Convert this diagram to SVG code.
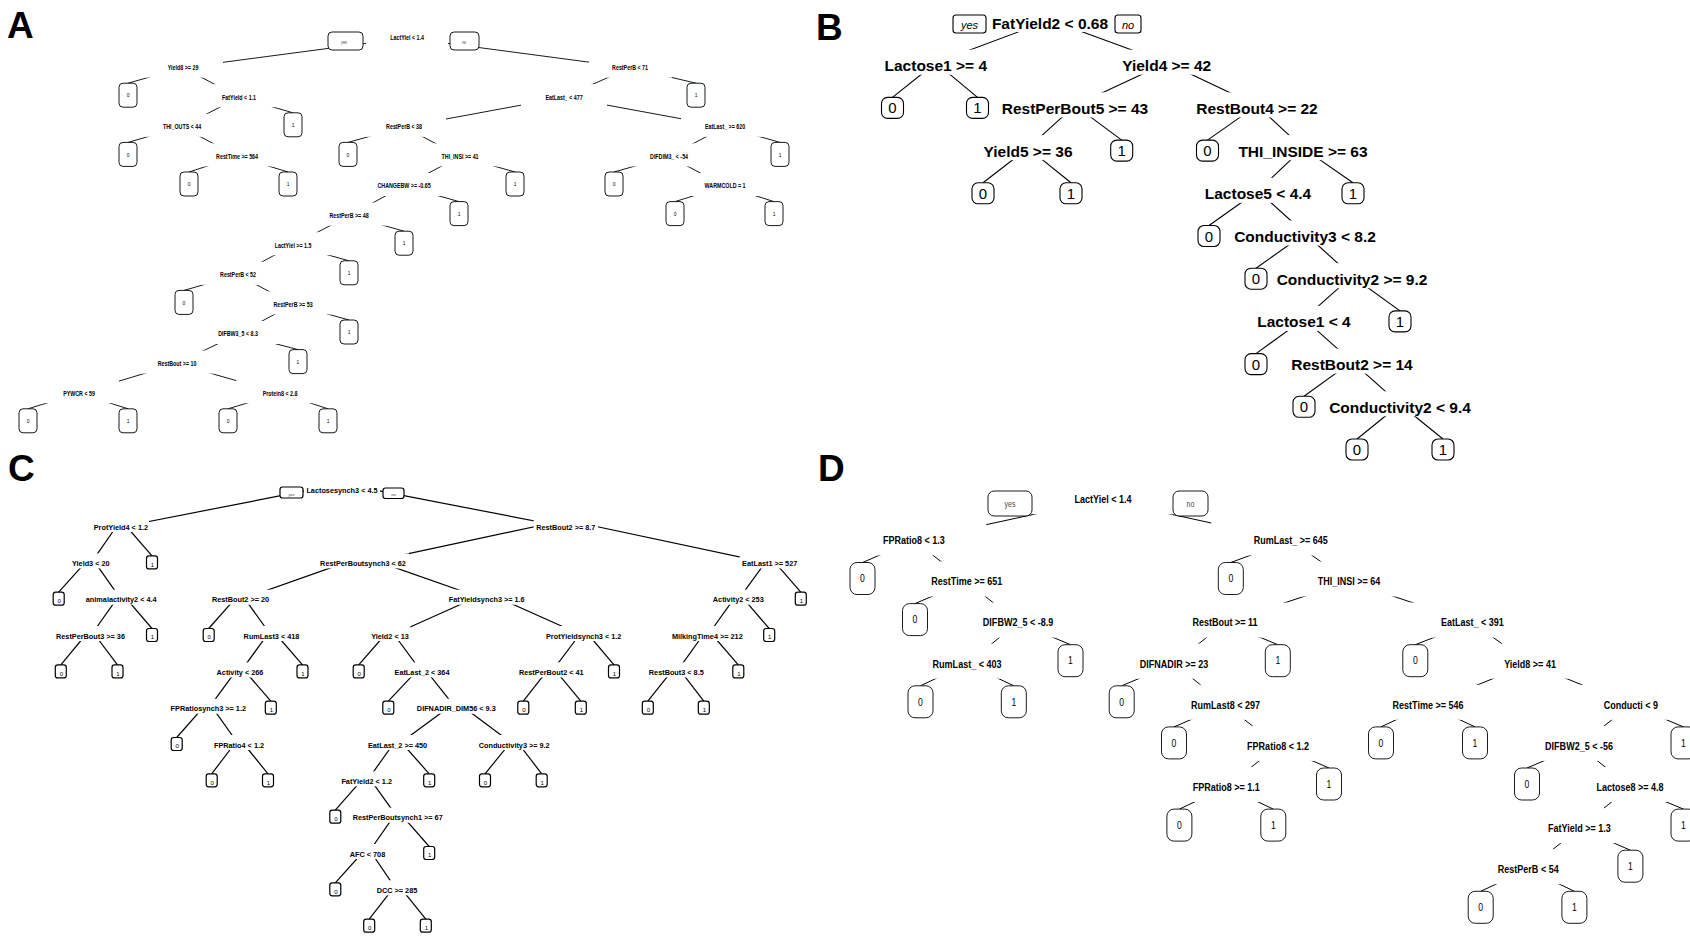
<svg xmlns="http://www.w3.org/2000/svg" width="1690" height="936" viewBox="0 0 1690 936">
<style>
.cn line{stroke:#000;fill:none}
.ea line{stroke-width:.9}
.eb line{stroke-width:1.1}
.ec line{stroke-width:1.2}
.ed line{stroke-width:1}
.bg{fill:#fff;stroke:none}
.lf{fill:#fff;stroke:#000}
.lfa{stroke-width:.9}
.lfb{stroke-width:1.1}
.lfc{stroke-width:1.2}
.lfd{stroke-width:.9}
text{font-family:"Liberation Sans",Arial,sans-serif;text-anchor:middle;fill:#000}
.nw{transform-box:fill-box;transform-origin:center;transform:scaleX(.82)}
.ta{font-size:6.5px;font-weight:bold}
.la{font-size:6px}
.tb{font-size:15.5px;font-weight:bold}
.lb{font-size:15px}
.tc{font-size:7.3px;font-weight:bold}
.lc{font-size:6px}
.td{font-size:11px;font-weight:bold}
.ld{font-size:10.5px}
.yna{font-size:4.5px;fill:#444}
.ynb{font-size:11px;font-style:italic}
.ync{font-size:4px;fill:#444}
.ynd{font-size:8.5px;fill:#444}
.pl{font-size:37px;font-weight:bold;text-anchor:start}
</style>
<rect x="0" y="0" width="1690" height="936" fill="#fff"/>
<text class="pl" x="7" y="38">A</text>
<text class="pl" x="816" y="40">B</text>
<text class="pl" x="8" y="481">C</text>
<text class="pl" x="818" y="481">D</text>

<!-- ================= PANEL A ================= -->
<g id="A-connectors" class="cn ea">
<line x1="407" y1="38" x2="183" y2="67.6"/>
<line x1="407" y1="38" x2="630" y2="67.6"/>
<line x1="183" y1="67.6" x2="128" y2="83.2"/>
<line x1="183" y1="67.6" x2="239" y2="97.2"/>
<line x1="239" y1="97.2" x2="182" y2="126.8"/>
<line x1="239" y1="97.2" x2="293" y2="112.8"/>
<line x1="182" y1="126.8" x2="128" y2="142.4"/>
<line x1="182" y1="126.8" x2="237" y2="156.4"/>
<line x1="237" y1="156.4" x2="189" y2="172"/>
<line x1="237" y1="156.4" x2="288" y2="172"/>
<line x1="630" y1="67.6" x2="564" y2="97.2"/>
<line x1="630" y1="67.6" x2="696" y2="83.2"/>
<line x1="564" y1="97.2" x2="404" y2="126.8"/>
<line x1="564" y1="97.2" x2="725" y2="126.8"/>
<line x1="404" y1="126.8" x2="348" y2="142.4"/>
<line x1="404" y1="126.8" x2="460" y2="156.4"/>
<line x1="460" y1="156.4" x2="404" y2="186"/>
<line x1="460" y1="156.4" x2="515" y2="172"/>
<line x1="404" y1="186" x2="349" y2="215.6"/>
<line x1="404" y1="186" x2="459" y2="201.6"/>
<line x1="349" y1="215.6" x2="293" y2="245.2"/>
<line x1="349" y1="215.6" x2="404" y2="231.2"/>
<line x1="293" y1="245.2" x2="238" y2="274.8"/>
<line x1="293" y1="245.2" x2="349" y2="260.8"/>
<line x1="238" y1="274.8" x2="184" y2="290.4"/>
<line x1="238" y1="274.8" x2="293" y2="304.4"/>
<line x1="293" y1="304.4" x2="238" y2="334"/>
<line x1="293" y1="304.4" x2="349" y2="320"/>
<line x1="238" y1="334" x2="177" y2="363.6"/>
<line x1="238" y1="334" x2="298" y2="349.6"/>
<line x1="177" y1="363.6" x2="79" y2="393.2"/>
<line x1="177" y1="363.6" x2="280" y2="393.2"/>
<line x1="79" y1="393.2" x2="28" y2="408.8"/>
<line x1="79" y1="393.2" x2="128" y2="408.8"/>
<line x1="280" y1="393.2" x2="228" y2="408.8"/>
<line x1="280" y1="393.2" x2="328" y2="408.8"/>
<line x1="725" y1="126.8" x2="669" y2="156.4"/>
<line x1="725" y1="126.8" x2="780" y2="142.4"/>
<line x1="669" y1="156.4" x2="614" y2="172"/>
<line x1="669" y1="156.4" x2="725" y2="186"/>
<line x1="725" y1="186" x2="675" y2="201.6"/>
<line x1="725" y1="186" x2="774" y2="201.6"/>
</g>
<g id="A-n1"><rect class="bg" x="366" y="25" width="82" height="23"/><text class="ta nw" x="407" y="40.4">LactYiel &lt; 1.4</text></g>
<g id="A-n2"><rect class="bg" x="143" y="54.6" width="80" height="23"/><text class="ta nw" x="183" y="70">Yield8 &gt;= 29</text></g>
<g id="A-n3"><rect class="bg" x="589" y="54.6" width="83" height="23"/><text class="ta nw" x="630" y="70">RestPerB &lt; 71</text></g>
<g id="A-n4"><rect class="bg" x="198" y="84.2" width="82" height="23"/><text class="ta nw" x="239" y="99.6">FatYield &lt; 1.1</text></g>
<g id="A-n5"><rect class="bg" x="521" y="84.2" width="86" height="23"/><text class="ta nw" x="564" y="99.6">EatLast_ &lt; 477</text></g>
<g id="A-n6"><rect class="bg" x="138" y="113.8" width="88" height="23"/><text class="ta nw" x="182" y="129.2">THI_OUTS &lt; 44</text></g>
<g id="A-n7"><rect class="bg" x="363" y="113.8" width="83" height="23"/><text class="ta nw" x="404" y="129.2">RestPerB &lt; 38</text></g>
<g id="A-n8"><rect class="bg" x="681" y="113.8" width="88" height="23"/><text class="ta nw" x="725" y="129.2">EatLast_ &gt;= 620</text></g>
<g id="A-n9"><rect class="bg" x="192" y="143.4" width="90" height="23"/><text class="ta nw" x="237" y="158.8">RestTime &gt;= 564</text></g>
<g id="A-n10"><rect class="bg" x="418" y="143.4" width="84" height="23"/><text class="ta nw" x="460" y="158.8">THI_INSI &gt;= 41</text></g>
<g id="A-n11"><rect class="bg" x="626" y="143.4" width="86" height="23"/><text class="ta nw" x="669" y="158.8">DIFDIM3_ &lt; -54</text></g>
<g id="A-n12"><rect class="bg" x="353" y="173" width="103" height="23"/><text class="ta nw" x="404" y="188.4">CHANGEBW &gt;= -0.65</text></g>
<g id="A-n13"><rect class="bg" x="679" y="173" width="92" height="23"/><text class="ta nw" x="725" y="188.4">WARMCOLD = 1</text></g>
<g id="A-n14"><rect class="bg" x="306" y="202.6" width="86" height="23"/><text class="ta nw" x="349" y="218">RestPerB &gt;= 48</text></g>
<g id="A-n15"><rect class="bg" x="249" y="232.2" width="87" height="23"/><text class="ta nw" x="293" y="247.6">LactYiel &gt;= 1.5</text></g>
<g id="A-n16"><rect class="bg" x="196" y="261.8" width="84" height="23"/><text class="ta nw" x="238" y="277.2">RestPerB &lt; 52</text></g>
<g id="A-n17"><rect class="bg" x="250" y="291.4" width="86" height="23"/><text class="ta nw" x="293" y="306.8">RestPerB &gt;= 53</text></g>
<g id="A-n18"><rect class="bg" x="194" y="321" width="88" height="23"/><text class="ta nw" x="238" y="336.4">DIFBW3_5 &lt; 8.3</text></g>
<g id="A-n19"><rect class="bg" x="133" y="350.6" width="89" height="23"/><text class="ta nw" x="177" y="366">RestBout &gt;= 10</text></g>
<g id="A-n20"><rect class="bg" x="38" y="380.2" width="81" height="23"/><text class="ta nw" x="79" y="395.6">PYWCR &lt; 59</text></g>
<g id="A-n21"><rect class="bg" x="236" y="380.2" width="86" height="23"/><text class="ta nw" x="280" y="395.6">Protein8 &lt; 2.8</text></g>
<g id="A-leaves">
<g id="A-l1"><rect class="lf lfa" x="119" y="83.2" width="18" height="24" rx="4"/><text class="la nw" x="128" y="97.4">0</text></g>
<g id="A-l2"><rect class="lf lfa" x="687" y="83.2" width="18" height="24" rx="4"/><text class="la nw" x="696" y="97.4">1</text></g>
<g id="A-l3"><rect class="lf lfa" x="284" y="112.8" width="18" height="24" rx="4"/><text class="la nw" x="293" y="127">1</text></g>
<g id="A-l4"><rect class="lf lfa" x="119" y="142.4" width="18" height="24" rx="4"/><text class="la nw" x="128" y="156.6">0</text></g>
<g id="A-l5"><rect class="lf lfa" x="339" y="142.4" width="18" height="24" rx="4"/><text class="la nw" x="348" y="156.6">0</text></g>
<g id="A-l6"><rect class="lf lfa" x="771" y="142.4" width="18" height="24" rx="4"/><text class="la nw" x="780" y="156.6">1</text></g>
<g id="A-l7"><rect class="lf lfa" x="180" y="172" width="18" height="24" rx="4"/><text class="la nw" x="189" y="186.2">0</text></g>
<g id="A-l8"><rect class="lf lfa" x="279" y="172" width="18" height="24" rx="4"/><text class="la nw" x="288" y="186.2">1</text></g>
<g id="A-l9"><rect class="lf lfa" x="506" y="172" width="18" height="24" rx="4"/><text class="la nw" x="515" y="186.2">1</text></g>
<g id="A-l10"><rect class="lf lfa" x="605" y="172" width="18" height="24" rx="4"/><text class="la nw" x="614" y="186.2">0</text></g>
<g id="A-l11"><rect class="lf lfa" x="450" y="201.6" width="18" height="24" rx="4"/><text class="la nw" x="459" y="215.8">1</text></g>
<g id="A-l12"><rect class="lf lfa" x="666" y="201.6" width="18" height="24" rx="4"/><text class="la nw" x="675" y="215.8">0</text></g>
<g id="A-l13"><rect class="lf lfa" x="765" y="201.6" width="18" height="24" rx="4"/><text class="la nw" x="774" y="215.8">1</text></g>
<g id="A-l14"><rect class="lf lfa" x="395" y="231.2" width="18" height="24" rx="4"/><text class="la nw" x="404" y="245.4">1</text></g>
<g id="A-l15"><rect class="lf lfa" x="340" y="260.8" width="18" height="24" rx="4"/><text class="la nw" x="349" y="275">1</text></g>
<g id="A-l16"><rect class="lf lfa" x="175" y="290.4" width="18" height="24" rx="4"/><text class="la nw" x="184" y="304.6">0</text></g>
<g id="A-l17"><rect class="lf lfa" x="340" y="320" width="18" height="24" rx="4"/><text class="la nw" x="349" y="334.2">1</text></g>
<g id="A-l18"><rect class="lf lfa" x="289" y="349.6" width="18" height="24" rx="4"/><text class="la nw" x="298" y="363.8">1</text></g>
<g id="A-l19"><rect class="lf lfa" x="19" y="408.8" width="18" height="24" rx="4"/><text class="la nw" x="28" y="423">0</text></g>
<g id="A-l20"><rect class="lf lfa" x="119" y="408.8" width="18" height="24" rx="4"/><text class="la nw" x="128" y="423">1</text></g>
<g id="A-l21"><rect class="lf lfa" x="219" y="408.8" width="18" height="24" rx="4"/><text class="la nw" x="228" y="423">0</text></g>
<g id="A-l22"><rect class="lf lfa" x="319" y="408.8" width="18" height="24" rx="4"/><text class="la nw" x="328" y="423">1</text></g>
</g>
<g id="A-yes"><rect class="lf lfa" x="328" y="32" width="35" height="18" rx="4"/><text class="yna nw" x="344" y="44">yes</text></g>
<g id="A-no"><rect class="lf lfa" x="450" y="32" width="29" height="18" rx="4"/><text class="yna nw" x="464" y="44">no</text></g>

<!-- ================= PANEL B ================= -->
<g id="B-connectors" class="cn eb">
<line x1="1050" y1="20" x2="935.8" y2="62.7"/>
<line x1="1050" y1="20" x2="1166.7" y2="62.7"/>
<line x1="935.8" y1="62.7" x2="892.5" y2="97.4"/>
<line x1="935.8" y1="62.7" x2="977.5" y2="97.4"/>
<line x1="1166.7" y1="62.7" x2="1075" y2="105.4"/>
<line x1="1166.7" y1="62.7" x2="1257" y2="105.4"/>
<line x1="1075" y1="105.4" x2="1028" y2="148.1"/>
<line x1="1075" y1="105.4" x2="1121.7" y2="140.1"/>
<line x1="1028" y1="148.1" x2="983" y2="182.8"/>
<line x1="1028" y1="148.1" x2="1071" y2="182.8"/>
<line x1="1257" y1="105.4" x2="1207.5" y2="140.1"/>
<line x1="1257" y1="105.4" x2="1303" y2="148.1"/>
<line x1="1303" y1="148.1" x2="1258" y2="190.8"/>
<line x1="1303" y1="148.1" x2="1353" y2="182.8"/>
<line x1="1258" y1="190.8" x2="1209" y2="225.5"/>
<line x1="1258" y1="190.8" x2="1305" y2="233.5"/>
<line x1="1305" y1="233.5" x2="1256" y2="268.2"/>
<line x1="1305" y1="233.5" x2="1352" y2="276.2"/>
<line x1="1352" y1="276.2" x2="1304" y2="318.9"/>
<line x1="1352" y1="276.2" x2="1400" y2="310.9"/>
<line x1="1304" y1="318.9" x2="1256" y2="353.6"/>
<line x1="1304" y1="318.9" x2="1352" y2="361.6"/>
<line x1="1352" y1="361.6" x2="1304" y2="396.3"/>
<line x1="1352" y1="361.6" x2="1400" y2="404.3"/>
<line x1="1400" y1="404.3" x2="1357" y2="439"/>
<line x1="1400" y1="404.3" x2="1443" y2="439"/>
</g>
<g id="B-n1"><rect class="bg" x="988" y="7" width="124" height="25"/><text class="tb" x="1050" y="28.5">FatYield2 &lt; 0.68</text></g>
<g id="B-n2"><rect class="bg" x="879" y="49.7" width="113" height="25"/><text class="tb" x="935.8" y="71.2">Lactose1 &gt;= 4</text></g>
<g id="B-n3"><rect class="bg" x="1118" y="49.7" width="98" height="25"/><text class="tb" x="1166.7" y="71.2">Yield4 &gt;= 42</text></g>
<g id="B-n4"><rect class="bg" x="998" y="92.4" width="154" height="25"/><text class="tb" x="1075" y="113.9">RestPerBout5 &gt;= 43</text></g>
<g id="B-n5"><rect class="bg" x="1192" y="92.4" width="129" height="25"/><text class="tb" x="1257" y="113.9">RestBout4 &gt;= 22</text></g>
<g id="B-n6"><rect class="bg" x="979" y="135.1" width="97" height="25"/><text class="tb" x="1028" y="156.6">Yield5 &gt;= 36</text></g>
<g id="B-n7"><rect class="bg" x="1239" y="135.1" width="129" height="25"/><text class="tb" x="1303" y="156.6">THI_INSIDE &gt;= 63</text></g>
<g id="B-n8"><rect class="bg" x="1199" y="177.8" width="117" height="25"/><text class="tb" x="1258" y="199.3">Lactose5 &lt; 4.4</text></g>
<g id="B-n9"><rect class="bg" x="1229" y="220.5" width="152" height="25"/><text class="tb" x="1305" y="242">Conductivity3 &lt; 8.2</text></g>
<g id="B-n10"><rect class="bg" x="1273" y="263.2" width="159" height="25"/><text class="tb" x="1352" y="284.7">Conductivity2 &gt;= 9.2</text></g>
<g id="B-n11"><rect class="bg" x="1253" y="305.9" width="103" height="25"/><text class="tb" x="1304" y="327.4">Lactose1 &lt; 4</text></g>
<g id="B-n12"><rect class="bg" x="1288" y="348.6" width="129" height="25"/><text class="tb" x="1352" y="370.1">RestBout2 &gt;= 14</text></g>
<g id="B-n13"><rect class="bg" x="1324" y="391.3" width="152" height="25"/><text class="tb" x="1400" y="412.8">Conductivity2 &lt; 9.4</text></g>
<g id="B-leaves">
<g id="B-l1"><rect class="lf lfb" x="881.5" y="97.4" width="22" height="21" rx="6"/><text class="lb" x="892.5" y="113.4">0</text></g>
<g id="B-l2"><rect class="lf lfb" x="966.5" y="97.4" width="22" height="21" rx="6"/><text class="lb" x="977.5" y="113.4">1</text></g>
<g id="B-l3"><rect class="lf lfb" x="1110.7" y="140.1" width="22" height="21" rx="6"/><text class="lb" x="1121.7" y="156.1">1</text></g>
<g id="B-l4"><rect class="lf lfb" x="1196.5" y="140.1" width="22" height="21" rx="6"/><text class="lb" x="1207.5" y="156.1">0</text></g>
<g id="B-l5"><rect class="lf lfb" x="972" y="182.8" width="22" height="21" rx="6"/><text class="lb" x="983" y="198.8">0</text></g>
<g id="B-l6"><rect class="lf lfb" x="1060" y="182.8" width="22" height="21" rx="6"/><text class="lb" x="1071" y="198.8">1</text></g>
<g id="B-l7"><rect class="lf lfb" x="1342" y="182.8" width="22" height="21" rx="6"/><text class="lb" x="1353" y="198.8">1</text></g>
<g id="B-l8"><rect class="lf lfb" x="1198" y="225.5" width="22" height="21" rx="6"/><text class="lb" x="1209" y="241.5">0</text></g>
<g id="B-l9"><rect class="lf lfb" x="1245" y="268.2" width="22" height="21" rx="6"/><text class="lb" x="1256" y="284.2">0</text></g>
<g id="B-l10"><rect class="lf lfb" x="1389" y="310.9" width="22" height="21" rx="6"/><text class="lb" x="1400" y="326.9">1</text></g>
<g id="B-l11"><rect class="lf lfb" x="1245" y="353.6" width="22" height="21" rx="6"/><text class="lb" x="1256" y="369.6">0</text></g>
<g id="B-l12"><rect class="lf lfb" x="1293" y="396.3" width="22" height="21" rx="6"/><text class="lb" x="1304" y="412.3">0</text></g>
<g id="B-l13"><rect class="lf lfb" x="1346" y="439" width="22" height="21" rx="6"/><text class="lb" x="1357" y="455">0</text></g>
<g id="B-l14"><rect class="lf lfb" x="1432" y="439" width="22" height="21" rx="6"/><text class="lb" x="1443" y="455">1</text></g>
</g>
<g id="B-yes"><rect class="lf lfb" x="953" y="15" width="33" height="18" rx="3"/><text class="ynb" x="969.5" y="28.5">yes</text></g>
<g id="B-no"><rect class="lf lfb" x="1115" y="15" width="26" height="18" rx="3"/><text class="ynb" x="1128" y="28.5">no</text></g>

<!-- ================= PANEL C ================= -->
<g id="C-connectors" class="cn ec">
<line x1="342" y1="483.7" x2="120.9" y2="527"/>
<line x1="342" y1="483.7" x2="565.8" y2="527"/>
<line x1="120.9" y1="520" x2="90.8" y2="563.4"/>
<line x1="120.9" y1="520" x2="152" y2="555.9"/>
<line x1="90.8" y1="556.4" x2="58.7" y2="592.2"/>
<line x1="90.8" y1="556.4" x2="121.2" y2="599.7"/>
<line x1="121.2" y1="592.7" x2="90.5" y2="636"/>
<line x1="121.2" y1="592.7" x2="152" y2="628.5"/>
<line x1="90.5" y1="629" x2="60.8" y2="664.9"/>
<line x1="90.5" y1="629" x2="117.5" y2="664.9"/>
<line x1="565.8" y1="520" x2="363" y2="563.4"/>
<line x1="565.8" y1="520" x2="769.7" y2="563.4"/>
<line x1="363" y1="556.4" x2="240.5" y2="599.7"/>
<line x1="363" y1="556.4" x2="486.7" y2="599.7"/>
<line x1="240.5" y1="592.7" x2="208.7" y2="628.5"/>
<line x1="240.5" y1="592.7" x2="271.5" y2="636"/>
<line x1="271.5" y1="629" x2="240" y2="672.4"/>
<line x1="271.5" y1="629" x2="302.5" y2="664.9"/>
<line x1="240" y1="665.4" x2="208.3" y2="708.7"/>
<line x1="240" y1="665.4" x2="270.8" y2="701.2"/>
<line x1="208.3" y1="701.7" x2="176.7" y2="737.5"/>
<line x1="208.3" y1="701.7" x2="239" y2="745"/>
<line x1="239" y1="738" x2="211.7" y2="773.8"/>
<line x1="239" y1="738" x2="268" y2="773.8"/>
<line x1="486.7" y1="592.7" x2="390" y2="636"/>
<line x1="486.7" y1="592.7" x2="583.7" y2="636"/>
<line x1="390" y1="629" x2="358.7" y2="664.9"/>
<line x1="390" y1="629" x2="422" y2="672.4"/>
<line x1="422" y1="665.4" x2="388.3" y2="701.2"/>
<line x1="422" y1="665.4" x2="456.3" y2="708.7"/>
<line x1="456.3" y1="701.7" x2="397.5" y2="745"/>
<line x1="456.3" y1="701.7" x2="514.2" y2="745"/>
<line x1="397.5" y1="738" x2="366.7" y2="781.3"/>
<line x1="397.5" y1="738" x2="429.2" y2="773.8"/>
<line x1="366.7" y1="774.3" x2="335.3" y2="810.2"/>
<line x1="366.7" y1="774.3" x2="397.7" y2="817.7"/>
<line x1="397.7" y1="810.7" x2="367.5" y2="854"/>
<line x1="397.7" y1="810.7" x2="429.2" y2="846.5"/>
<line x1="367.5" y1="847" x2="335.3" y2="882.8"/>
<line x1="367.5" y1="847" x2="397" y2="890.3"/>
<line x1="397" y1="883.3" x2="369.2" y2="919.2"/>
<line x1="397" y1="883.3" x2="425.8" y2="919.2"/>
<line x1="514.2" y1="738" x2="485" y2="773.8"/>
<line x1="514.2" y1="738" x2="541.7" y2="773.8"/>
<line x1="583.7" y1="629" x2="551.3" y2="672.4"/>
<line x1="583.7" y1="629" x2="614" y2="664.9"/>
<line x1="551.3" y1="665.4" x2="523.3" y2="701.2"/>
<line x1="551.3" y1="665.4" x2="580.8" y2="701.2"/>
<line x1="769.7" y1="556.4" x2="738.3" y2="599.7"/>
<line x1="769.7" y1="556.4" x2="800.8" y2="592.2"/>
<line x1="738.3" y1="592.7" x2="707.3" y2="636"/>
<line x1="738.3" y1="592.7" x2="769.2" y2="628.5"/>
<line x1="707.3" y1="629" x2="676.3" y2="672.4"/>
<line x1="707.3" y1="629" x2="738.3" y2="664.9"/>
<line x1="676.3" y1="665.4" x2="647.8" y2="701.2"/>
<line x1="676.3" y1="665.4" x2="703.8" y2="701.2"/>
</g>
<g id="C-n1"><rect class="bg" x="304" y="480.7" width="76" height="15"/><text class="tc" x="342" y="493.3">Lactosesynch3 &lt; 4.5</text></g>
<g id="C-n2"><rect class="bg" x="92.7" y="517" width="56.3" height="15"/><text class="tc" x="120.9" y="529.6">ProtYield4 &lt; 1.2</text></g>
<g id="C-n3"><rect class="bg" x="533.7" y="517" width="64.3" height="15"/><text class="tc" x="565.8" y="529.6">RestBout2 &gt;= 8.7</text></g>
<g id="C-n4"><rect class="bg" x="70.3" y="553.4" width="41" height="15"/><text class="tc" x="90.8" y="566">Yield3 &lt; 20</text></g>
<g id="C-n5"><rect class="bg" x="317" y="553.4" width="92" height="15"/><text class="tc" x="363" y="566">RestPerBoutsynch3 &lt; 62</text></g>
<g id="C-n6"><rect class="bg" x="739.7" y="553.4" width="60" height="15"/><text class="tc" x="769.7" y="566">EatLast1 &gt;= 527</text></g>
<g id="C-n7"><rect class="bg" x="84.3" y="589.7" width="73.7" height="15"/><text class="tc" x="121.2" y="602.3">animalactivity2 &lt; 4.4</text></g>
<g id="C-n8"><rect class="bg" x="208.7" y="589.7" width="63.6" height="15"/><text class="tc" x="240.5" y="602.3">RestBout2 &gt;= 20</text></g>
<g id="C-n9"><rect class="bg" x="447" y="589.7" width="79.3" height="15"/><text class="tc" x="486.7" y="602.3">FatYieldsynch3 &gt;= 1.6</text></g>
<g id="C-n10"><rect class="bg" x="710.3" y="589.7" width="56" height="15"/><text class="tc" x="738.3" y="602.3">Activity2 &lt; 253</text></g>
<g id="C-n11"><rect class="bg" x="53" y="626" width="75" height="15"/><text class="tc" x="90.5" y="638.6">RestPerBout3 &gt;= 36</text></g>
<g id="C-n12"><rect class="bg" x="241" y="626" width="61" height="15"/><text class="tc" x="271.5" y="638.6">RumLast3 &lt; 418</text></g>
<g id="C-n13"><rect class="bg" x="369.7" y="626" width="40.6" height="15"/><text class="tc" x="390" y="638.6">Yield2 &lt; 13</text></g>
<g id="C-n14"><rect class="bg" x="544.3" y="626" width="78.7" height="15"/><text class="tc" x="583.7" y="638.6">ProtYieldsynch3 &lt; 1.2</text></g>
<g id="C-n15"><rect class="bg" x="671" y="626" width="72.7" height="15"/><text class="tc" x="707.3" y="638.6">MilkingTime4 &gt;= 212</text></g>
<g id="C-n16"><rect class="bg" x="213.7" y="662.4" width="52.6" height="15"/><text class="tc" x="240" y="675">Activity &lt; 266</text></g>
<g id="C-n17"><rect class="bg" x="391" y="662.4" width="62" height="15"/><text class="tc" x="422" y="675">EatLast_2 &lt; 364</text></g>
<g id="C-n18"><rect class="bg" x="516.3" y="662.4" width="70" height="15"/><text class="tc" x="551.3" y="675">RestPerBout2 &lt; 41</text></g>
<g id="C-n19"><rect class="bg" x="646.3" y="662.4" width="60" height="15"/><text class="tc" x="676.3" y="675">RestBout3 &lt; 8.5</text></g>
<g id="C-n20"><rect class="bg" x="168.7" y="698.7" width="79.3" height="15"/><text class="tc" x="208.3" y="711.3">FPRatiosynch3 &gt;= 1.2</text></g>
<g id="C-n21"><rect class="bg" x="413.7" y="698.7" width="85.3" height="15"/><text class="tc" x="456.3" y="711.3">DIFNADIR_DIM56 &lt; 9.3</text></g>
<g id="C-n22"><rect class="bg" x="212" y="735" width="54.3" height="15"/><text class="tc" x="239" y="747.6">FPRatio4 &lt; 1.2</text></g>
<g id="C-n23"><rect class="bg" x="365.3" y="735" width="64.4" height="15"/><text class="tc" x="397.5" y="747.6">EatLast_2 &gt;= 450</text></g>
<g id="C-n24"><rect class="bg" x="477" y="735" width="74.3" height="15"/><text class="tc" x="514.2" y="747.6">Conductivity3 &gt;= 9.2</text></g>
<g id="C-n25"><rect class="bg" x="339.7" y="771.3" width="54" height="15"/><text class="tc" x="366.7" y="783.9">FatYield2 &lt; 1.2</text></g>
<g id="C-n26"><rect class="bg" x="349.7" y="807.7" width="96" height="15"/><text class="tc" x="397.7" y="820.3">RestPerBoutsynch1 &gt;= 67</text></g>
<g id="C-n27"><rect class="bg" x="347" y="844" width="41" height="15"/><text class="tc" x="367.5" y="856.6">AFC &lt; 708</text></g>
<g id="C-n28"><rect class="bg" x="373.7" y="880.3" width="46.6" height="15"/><text class="tc" x="397" y="892.9">DCC &gt;= 285</text></g>
<g id="C-leaves">
<g id="C-l1"><rect class="lf lfc" x="146.5" y="555.9" width="11" height="13" rx="2.5"/><text class="lc" x="152.5" y="566.6">1</text></g>
<g id="C-l2"><rect class="lf lfc" x="53.2" y="592.2" width="11" height="13" rx="2.5"/><text class="lc" x="59.2" y="602.9">0</text></g>
<g id="C-l3"><rect class="lf lfc" x="795.3" y="592.2" width="11" height="13" rx="2.5"/><text class="lc" x="801.3" y="602.9">1</text></g>
<g id="C-l4"><rect class="lf lfc" x="146.5" y="628.5" width="11" height="13" rx="2.5"/><text class="lc" x="152.5" y="639.2">1</text></g>
<g id="C-l5"><rect class="lf lfc" x="203.2" y="628.5" width="11" height="13" rx="2.5"/><text class="lc" x="209.2" y="639.2">0</text></g>
<g id="C-l6"><rect class="lf lfc" x="763.7" y="628.5" width="11" height="13" rx="2.5"/><text class="lc" x="769.7" y="639.2">1</text></g>
<g id="C-l7"><rect class="lf lfc" x="55.3" y="664.9" width="11" height="13" rx="2.5"/><text class="lc" x="61.3" y="675.6">0</text></g>
<g id="C-l8"><rect class="lf lfc" x="112" y="664.9" width="11" height="13" rx="2.5"/><text class="lc" x="118" y="675.6">1</text></g>
<g id="C-l9"><rect class="lf lfc" x="297" y="664.9" width="11" height="13" rx="2.5"/><text class="lc" x="303" y="675.6">1</text></g>
<g id="C-l10"><rect class="lf lfc" x="353.2" y="664.9" width="11" height="13" rx="2.5"/><text class="lc" x="359.2" y="675.6">0</text></g>
<g id="C-l11"><rect class="lf lfc" x="608.5" y="664.9" width="11" height="13" rx="2.5"/><text class="lc" x="614.5" y="675.6">1</text></g>
<g id="C-l12"><rect class="lf lfc" x="732.8" y="664.9" width="11" height="13" rx="2.5"/><text class="lc" x="738.8" y="675.6">1</text></g>
<g id="C-l13"><rect class="lf lfc" x="265.3" y="701.2" width="11" height="13" rx="2.5"/><text class="lc" x="271.3" y="711.9">1</text></g>
<g id="C-l14"><rect class="lf lfc" x="382.8" y="701.2" width="11" height="13" rx="2.5"/><text class="lc" x="388.8" y="711.9">0</text></g>
<g id="C-l15"><rect class="lf lfc" x="517.8" y="701.2" width="11" height="13" rx="2.5"/><text class="lc" x="523.8" y="711.9">0</text></g>
<g id="C-l16"><rect class="lf lfc" x="575.3" y="701.2" width="11" height="13" rx="2.5"/><text class="lc" x="581.3" y="711.9">1</text></g>
<g id="C-l17"><rect class="lf lfc" x="642.3" y="701.2" width="11" height="13" rx="2.5"/><text class="lc" x="648.3" y="711.9">0</text></g>
<g id="C-l18"><rect class="lf lfc" x="698.3" y="701.2" width="11" height="13" rx="2.5"/><text class="lc" x="704.3" y="711.9">1</text></g>
<g id="C-l19"><rect class="lf lfc" x="171.2" y="737.5" width="11" height="13" rx="2.5"/><text class="lc" x="177.2" y="748.2">0</text></g>
<g id="C-l20"><rect class="lf lfc" x="206.2" y="773.8" width="11" height="13" rx="2.5"/><text class="lc" x="212.2" y="784.5">0</text></g>
<g id="C-l21"><rect class="lf lfc" x="262.5" y="773.8" width="11" height="13" rx="2.5"/><text class="lc" x="268.5" y="784.5">1</text></g>
<g id="C-l22"><rect class="lf lfc" x="423.7" y="773.8" width="11" height="13" rx="2.5"/><text class="lc" x="429.7" y="784.5">1</text></g>
<g id="C-l23"><rect class="lf lfc" x="479.5" y="773.8" width="11" height="13" rx="2.5"/><text class="lc" x="485.5" y="784.5">0</text></g>
<g id="C-l24"><rect class="lf lfc" x="536.2" y="773.8" width="11" height="13" rx="2.5"/><text class="lc" x="542.2" y="784.5">1</text></g>
<g id="C-l25"><rect class="lf lfc" x="329.8" y="810.2" width="11" height="13" rx="2.5"/><text class="lc" x="335.8" y="820.9">0</text></g>
<g id="C-l26"><rect class="lf lfc" x="423.7" y="846.5" width="11" height="13" rx="2.5"/><text class="lc" x="429.7" y="857.2">1</text></g>
<g id="C-l27"><rect class="lf lfc" x="329.8" y="882.8" width="11" height="13" rx="2.5"/><text class="lc" x="335.8" y="893.5">0</text></g>
<g id="C-l28"><rect class="lf lfc" x="363.7" y="919.2" width="11" height="13" rx="2.5"/><text class="lc" x="369.7" y="929.9">0</text></g>
<g id="C-l29"><rect class="lf lfc" x="420.3" y="919.2" width="11" height="13" rx="2.5"/><text class="lc" x="426.3" y="929.9">1</text></g>
</g>
<g id="C-yes"><rect class="lf lfc" x="280" y="487" width="23" height="11" rx="2.5"/><text class="ync" x="291.5" y="495.5">yes</text></g>
<g id="C-no"><rect class="lf lfc" x="383" y="488" width="21" height="10.5" rx="2.5"/><text class="ync" x="393.5" y="495.8">no</text></g>

<!-- ================= PANEL D ================= -->
<g id="D-connectors" class="cn ed">
<line x1="1103" y1="499.3" x2="913.8" y2="540.4"/>
<line x1="1103" y1="499.3" x2="1290.8" y2="540.4"/>
<line x1="913.8" y1="540.4" x2="862.5" y2="562.5"/>
<line x1="913.8" y1="540.4" x2="966.7" y2="581.5"/>
<line x1="966.7" y1="581.5" x2="915" y2="603.6"/>
<line x1="966.7" y1="581.5" x2="1018" y2="622.6"/>
<line x1="1018" y1="622.6" x2="967" y2="663.7"/>
<line x1="1018" y1="622.6" x2="1070.5" y2="644.7"/>
<line x1="967" y1="663.7" x2="920.5" y2="685.8"/>
<line x1="967" y1="663.7" x2="1013.8" y2="685.8"/>
<line x1="1290.8" y1="540.4" x2="1230.8" y2="562.5"/>
<line x1="1290.8" y1="540.4" x2="1349" y2="581.5"/>
<line x1="1349" y1="581.5" x2="1225" y2="622.6"/>
<line x1="1349" y1="581.5" x2="1472.3" y2="622.6"/>
<line x1="1225" y1="622.6" x2="1174" y2="663.7"/>
<line x1="1225" y1="622.6" x2="1277.8" y2="644.7"/>
<line x1="1174" y1="663.7" x2="1121.7" y2="685.8"/>
<line x1="1174" y1="663.7" x2="1225.5" y2="704.8"/>
<line x1="1225.5" y1="704.8" x2="1174" y2="726.9"/>
<line x1="1225.5" y1="704.8" x2="1278" y2="745.9"/>
<line x1="1278" y1="745.9" x2="1226.3" y2="787"/>
<line x1="1278" y1="745.9" x2="1329" y2="768"/>
<line x1="1226.3" y1="787" x2="1179.4" y2="809.1"/>
<line x1="1226.3" y1="787" x2="1273.3" y2="809.1"/>
<line x1="1472.3" y1="622.6" x2="1415.3" y2="644.7"/>
<line x1="1472.3" y1="622.6" x2="1530" y2="663.7"/>
<line x1="1530" y1="663.7" x2="1428" y2="704.8"/>
<line x1="1530" y1="663.7" x2="1630.8" y2="704.8"/>
<line x1="1428" y1="704.8" x2="1381" y2="726.9"/>
<line x1="1428" y1="704.8" x2="1475" y2="726.9"/>
<line x1="1630.8" y1="704.8" x2="1579" y2="745.9"/>
<line x1="1630.8" y1="704.8" x2="1683.5" y2="726.9"/>
<line x1="1579" y1="745.9" x2="1527" y2="768"/>
<line x1="1579" y1="745.9" x2="1630" y2="787"/>
<line x1="1630" y1="787" x2="1579.4" y2="828.1"/>
<line x1="1630" y1="787" x2="1683.5" y2="809.1"/>
<line x1="1579.4" y1="828.1" x2="1528.2" y2="869.2"/>
<line x1="1579.4" y1="828.1" x2="1630.4" y2="850.2"/>
<line x1="1528.2" y1="869.2" x2="1480.7" y2="891.3"/>
<line x1="1528.2" y1="869.2" x2="1574.4" y2="891.3"/>
</g>
<g id="D-n1"><rect class="bg" x="1033" y="479.3" width="140" height="35"/><text class="td nw" x="1103" y="503.2">LactYiel &lt; 1.4</text></g>
<g id="D-n2"><rect class="bg" x="841.3" y="520.4" width="145" height="35"/><text class="td nw" x="913.8" y="544.3">FPRatio8 &lt; 1.3</text></g>
<g id="D-n3"><rect class="bg" x="1211.3" y="520.4" width="159" height="35"/><text class="td nw" x="1290.8" y="544.3">RumLast_ &gt;= 645</text></g>
<g id="D-n4"><rect class="bg" x="889.7" y="561.5" width="154" height="35"/><text class="td nw" x="966.7" y="585.4">RestTime &gt;= 651</text></g>
<g id="D-n5"><rect class="bg" x="1276" y="561.5" width="146" height="35"/><text class="td nw" x="1349" y="585.4">THI_INSI &gt;= 64</text></g>
<g id="D-n6"><rect class="bg" x="941" y="602.6" width="154" height="35"/><text class="td nw" x="1018" y="626.5">DIFBW2_5 &lt; -8.9</text></g>
<g id="D-n7"><rect class="bg" x="1151.3" y="602.6" width="147.4" height="35"/><text class="td nw" x="1225" y="626.5">RestBout &gt;= 11</text></g>
<g id="D-n8"><rect class="bg" x="1398.7" y="602.6" width="147.3" height="35"/><text class="td nw" x="1472.3" y="626.5">EatLast_ &lt; 391</text></g>
<g id="D-n9"><rect class="bg" x="890.7" y="643.7" width="153" height="35"/><text class="td nw" x="967" y="667.6">RumLast_ &lt; 403</text></g>
<g id="D-n10"><rect class="bg" x="1099.7" y="643.7" width="149" height="35"/><text class="td nw" x="1174" y="667.6">DIFNADIR &gt;= 23</text></g>
<g id="D-n11"><rect class="bg" x="1463" y="643.7" width="134" height="35"/><text class="td nw" x="1530" y="667.6">Yield8 &gt;= 41</text></g>
<g id="D-n12"><rect class="bg" x="1148.8" y="684.8" width="153.4" height="35"/><text class="td nw" x="1225.5" y="708.7">RumLast8 &lt; 297</text></g>
<g id="D-n13"><rect class="bg" x="1350" y="684.8" width="156.3" height="35"/><text class="td nw" x="1428" y="708.7">RestTime &gt;= 546</text></g>
<g id="D-n14"><rect class="bg" x="1562.3" y="684.8" width="137" height="35"/><text class="td nw" x="1630.8" y="708.7">Conducti &lt; 9</text></g>
<g id="D-n15"><rect class="bg" x="1206" y="725.9" width="144" height="35"/><text class="td nw" x="1278" y="749.8">FPRatio8 &lt; 1.2</text></g>
<g id="D-n16"><rect class="bg" x="1502.7" y="725.9" width="152.6" height="35"/><text class="td nw" x="1579" y="749.8">DIFBW2_5 &lt; -56</text></g>
<g id="D-n17"><rect class="bg" x="1151.7" y="767" width="149.3" height="35"/><text class="td nw" x="1226.3" y="790.9">FPRatio8 &gt;= 1.1</text></g>
<g id="D-n18"><rect class="bg" x="1554" y="767" width="152.3" height="35"/><text class="td nw" x="1630" y="790.9">Lactose8 &gt;= 4.8</text></g>
<g id="D-n19"><rect class="bg" x="1506.8" y="808.1" width="145.2" height="35"/><text class="td nw" x="1579.4" y="832">FatYield &gt;= 1.3</text></g>
<g id="D-n20"><rect class="bg" x="1455" y="849.2" width="146.4" height="35"/><text class="td nw" x="1528.2" y="873.1">RestPerB &lt; 54</text></g>
<g id="D-leaves">
<g id="D-l1"><rect class="lf lfd" x="850" y="562.5" width="25" height="32" rx="7"/><text class="ld nw" x="862.5" y="582.3">0</text></g>
<g id="D-l2"><rect class="lf lfd" x="1218.3" y="562.5" width="25" height="32" rx="7"/><text class="ld nw" x="1230.8" y="582.3">0</text></g>
<g id="D-l3"><rect class="lf lfd" x="902.5" y="603.6" width="25" height="32" rx="7"/><text class="ld nw" x="915" y="623.4">0</text></g>
<g id="D-l4"><rect class="lf lfd" x="1058" y="644.7" width="25" height="32" rx="7"/><text class="ld nw" x="1070.5" y="664.5">1</text></g>
<g id="D-l5"><rect class="lf lfd" x="1265.3" y="644.7" width="25" height="32" rx="7"/><text class="ld nw" x="1277.8" y="664.5">1</text></g>
<g id="D-l6"><rect class="lf lfd" x="1402.8" y="644.7" width="25" height="32" rx="7"/><text class="ld nw" x="1415.3" y="664.5">0</text></g>
<g id="D-l7"><rect class="lf lfd" x="908" y="685.8" width="25" height="32" rx="7"/><text class="ld nw" x="920.5" y="705.6">0</text></g>
<g id="D-l8"><rect class="lf lfd" x="1001.3" y="685.8" width="25" height="32" rx="7"/><text class="ld nw" x="1013.8" y="705.6">1</text></g>
<g id="D-l9"><rect class="lf lfd" x="1109.2" y="685.8" width="25" height="32" rx="7"/><text class="ld nw" x="1121.7" y="705.6">0</text></g>
<g id="D-l10"><rect class="lf lfd" x="1161.5" y="726.9" width="25" height="32" rx="7"/><text class="ld nw" x="1174" y="746.7">0</text></g>
<g id="D-l11"><rect class="lf lfd" x="1368.5" y="726.9" width="25" height="32" rx="7"/><text class="ld nw" x="1381" y="746.7">0</text></g>
<g id="D-l12"><rect class="lf lfd" x="1462.5" y="726.9" width="25" height="32" rx="7"/><text class="ld nw" x="1475" y="746.7">1</text></g>
<g id="D-l13"><rect class="lf lfd" x="1671" y="726.9" width="25" height="32" rx="7"/><text class="ld nw" x="1683.5" y="746.7">1</text></g>
<g id="D-l14"><rect class="lf lfd" x="1316.5" y="768" width="25" height="32" rx="7"/><text class="ld nw" x="1329" y="787.8">1</text></g>
<g id="D-l15"><rect class="lf lfd" x="1514.5" y="768" width="25" height="32" rx="7"/><text class="ld nw" x="1527" y="787.8">0</text></g>
<g id="D-l16"><rect class="lf lfd" x="1166.9" y="809.1" width="25" height="32" rx="7"/><text class="ld nw" x="1179.4" y="828.9">0</text></g>
<g id="D-l17"><rect class="lf lfd" x="1260.8" y="809.1" width="25" height="32" rx="7"/><text class="ld nw" x="1273.3" y="828.9">1</text></g>
<g id="D-l18"><rect class="lf lfd" x="1671" y="809.1" width="25" height="32" rx="7"/><text class="ld nw" x="1683.5" y="828.9">1</text></g>
<g id="D-l19"><rect class="lf lfd" x="1617.9" y="850.2" width="25" height="32" rx="7"/><text class="ld nw" x="1630.4" y="870">1</text></g>
<g id="D-l20"><rect class="lf lfd" x="1468.2" y="891.3" width="25" height="32" rx="7"/><text class="ld nw" x="1480.7" y="911.1">0</text></g>
<g id="D-l21"><rect class="lf lfd" x="1561.9" y="891.3" width="25" height="32" rx="7"/><text class="ld nw" x="1574.4" y="911.1">1</text></g>
</g>
<g id="D-yes"><rect class="lf lfd" x="988" y="491" width="44" height="25" rx="6"/><text class="ynd nw" x="1010" y="507">yes</text></g>
<g id="D-no"><rect class="lf lfd" x="1173" y="491" width="35" height="25" rx="6"/><text class="ynd nw" x="1190.5" y="507">no</text></g>
</svg>
